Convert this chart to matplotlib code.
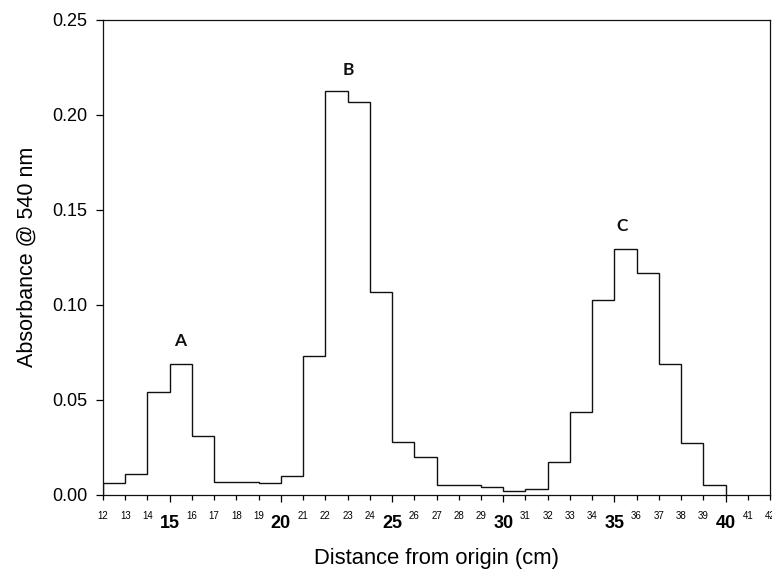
import matplotlib
matplotlib.use("Agg")
import matplotlib.pyplot as plt
import numpy as np

plt.rcParams['font.family'] = ['Liberation Sans', 'DejaVu Sans']

edges = list(range(12, 41))
absorbance = [0.0059, 0.011, 0.054, 0.069, 0.0308, 0.0066, 0.0066, 0.006, 0.0099, 0.073,
              0.2128, 0.2068, 0.1067, 0.0275, 0.0199, 0.005, 0.005, 0.004, 0.0017, 0.0027,
              0.0171, 0.0435, 0.1027, 0.1295, 0.1169, 0.0688, 0.027, 0.0048]
peak_labels = ['A', 'B', 'C']
peak_x = [15.46, 23.02, 35.35]
peak_y = [0.0808, 0.2237, 0.1415]
major_ticks = [15, 20, 25, 30, 35, 40]
minor_ticks = [t for t in range(12, 43) if t not in major_ticks]
y_ticks = [0.00, 0.05, 0.10, 0.15, 0.20, 0.25]

fig = plt.figure(figsize=(7.72, 5.72), dpi=100)
ax = fig.add_axes([103/772, 1-494.5/572, (770-103)/772, (494.5-20)/572])

ax.stairs(absorbance, edges, baseline=0, color='#111111', lw=1.0)

for lab, x, y in zip(peak_labels, peak_x, peak_y):
    ax.text(x, y, lab, ha='center', va='center', fontsize=12.5, fontweight='bold',
            family=['Lato', 'DejaVu Sans'], color='#111111')

ax.set_xlim(12, 42)
ax.set_ylim(0, 0.25)

ax.set_xticks(major_ticks)
ax.set_xticklabels([str(t) for t in major_ticks], fontsize=13, fontweight='bold')
ax.set_xticks(minor_ticks, minor=True)
ax.set_xticklabels([str(t) for t in minor_ticks], minor=True, fontsize=7)
ax.tick_params(axis='x', which='major', length=5, width=0.9, pad=10, direction='out')
ax.tick_params(axis='x', which='minor', length=3.5, width=0.9, pad=8.5, direction='out')

ax.set_yticks(y_ticks)
ax.set_yticklabels([f"{v:.2f}" for v in y_ticks], fontsize=13)
ax.tick_params(axis='y', which='major', length=5, width=0.9, pad=6, direction='out')

for s in ax.spines.values():
    s.set_linewidth(0.9)
    s.set_color('#111111')

ax.set_xlabel('Distance from origin (cm)', fontsize=15.8, labelpad=11.5)
ax.set_ylabel('Absorbance @ 540 nm', fontsize=15.5, labelpad=11)

fig.savefig('out.png', dpi=100)
